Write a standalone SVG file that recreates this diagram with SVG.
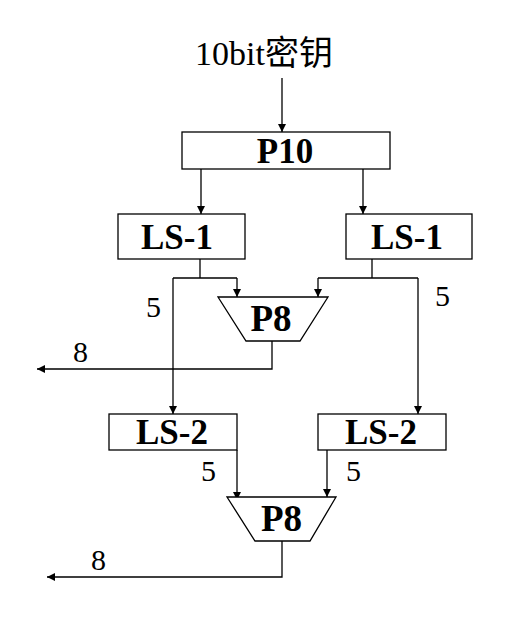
<svg xmlns="http://www.w3.org/2000/svg" width="531" height="625" viewBox="0 0 531 625">
<style>
.box{fill:#fff;stroke:#000;stroke-width:1.3}
.ln{fill:none;stroke:#000;stroke-width:1.3}
.lbl{font-family:"Liberation Serif","Noto Sans CJK SC",serif;font-weight:bold;font-size:35px;text-anchor:middle;fill:#000}
.num{font-family:"Liberation Serif",serif;font-size:30px;fill:#000}
.title{font-family:"Liberation Serif","Noto Sans CJK SC",serif;font-size:34px;fill:#000}
</style>
<defs>
<marker id="ah" viewBox="0 0 8 8" refX="8" refY="4" markerWidth="8" markerHeight="8" markerUnits="userSpaceOnUse" orient="auto">
<path d="M0,0 L8,4 L0,8 Z" fill="#000"/>
</marker>
</defs>
<rect width="531" height="625" fill="#fff"/>
<text class="title" x="195" y="65">10bit密钥</text>
<g id="connectors">
<line class="ln" x1="282" y1="78" x2="282" y2="132" marker-end="url(#ah)"/>
<line class="ln" x1="201" y1="169" x2="201" y2="214" marker-end="url(#ah)"/>
<line class="ln" x1="363" y1="169" x2="363" y2="214" marker-end="url(#ah)"/>
<line class="ln" x1="200" y1="259" x2="200" y2="278"/>
<line class="ln" x1="173" y1="278" x2="237" y2="278"/>
<line class="ln" x1="237" y1="278" x2="237" y2="297" marker-end="url(#ah)"/>
<line class="ln" x1="173" y1="278" x2="173" y2="414" marker-end="url(#ah)"/>
<line class="ln" x1="372" y1="259" x2="372" y2="278"/>
<line class="ln" x1="318" y1="278" x2="418" y2="278"/>
<line class="ln" x1="318" y1="278" x2="318" y2="297" marker-end="url(#ah)"/>
<line class="ln" x1="418" y1="278" x2="418" y2="414" marker-end="url(#ah)"/>
<polyline class="ln" points="272,341 272,369 37,369" marker-end="url(#ah)"/>
<line class="ln" x1="237" y1="450" x2="237" y2="500" marker-end="url(#ah)"/>
<line class="ln" x1="327" y1="450" x2="327" y2="497" marker-end="url(#ah)"/>
<polyline class="ln" points="282,541 282,577 47,577" marker-end="url(#ah)"/>
</g>
<g id="p10"><rect class="box" x="182" y="132" width="208" height="37"/><text class="lbl" x="285" y="163">P10</text></g>
<g id="ls1-left"><rect class="box" x="118" y="214" width="127" height="45"/><text class="lbl" x="177" y="249">LS-1</text></g>
<g id="ls1-right"><rect class="box" x="346" y="214" width="126" height="45"/><text class="lbl" x="407" y="249">LS-1</text></g>
<g id="p8-top"><polygon class="box" points="218,297 328,297 300,341 246,341"/><text class="lbl" x="271" y="330.5" style="font-size:37px">P8</text></g>
<g id="ls2-left"><rect class="box" x="109" y="414" width="128" height="36"/><text class="lbl" x="172" y="444">LS-2</text></g>
<g id="ls2-right"><rect class="box" x="318" y="414" width="128" height="36"/><text class="lbl" x="381" y="444">LS-2</text></g>
<g id="p8-bottom"><polygon class="box" points="227,497 336,497 310,541 255,541"/><text class="lbl" x="281.5" y="530.5" style="font-size:37px">P8</text></g>
<g id="labels">
<text class="num" x="146" y="317">5</text>
<text class="num" x="435" y="306">5</text>
<text class="num" x="201" y="481">5</text>
<text class="num" x="346" y="481">5</text>
<text class="num" x="73" y="362">8</text>
<text class="num" x="91" y="570">8</text>
</g>
</svg>
